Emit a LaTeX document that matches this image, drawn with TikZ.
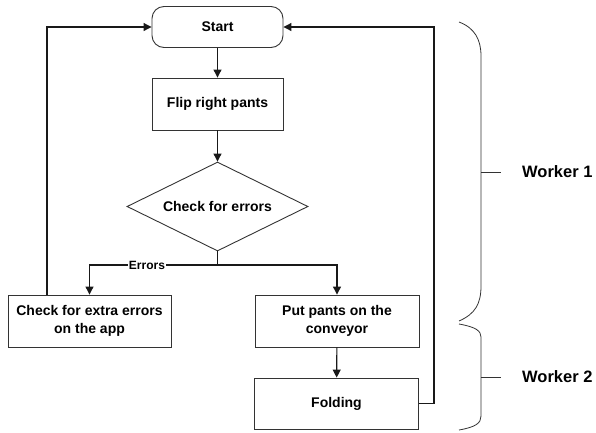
\documentclass[tikz,border=0pt]{standalone}
\usepackage{fontspec}
\setmainfont{Liberation Sans}
\usetikzlibrary{shapes.geometric,arrows.meta}

\tikzset{
  box/.style={draw=black!80, line width=0.9pt, rectangle, inner sep=2pt,
    align=center, font=\bfseries\fontsize{14}{17.5}\selectfont},
  terminal/.style={box, rounded corners=12pt},
  decision/.style={draw=black!80, line width=0.9pt, diamond, aspect=2,
    inner sep=0pt, font=\bfseries\fontsize{14}{17.5}\selectfont},
  arr/.style={draw=black!90, line width=1.1pt,
    -{Triangle[length=8pt,width=8pt]}},
  link/.style={draw=black!90, line width=1.1pt},
  brace/.style={draw=black!80, line width=0.8pt},
  tag/.style={font=\bfseries\fontsize{16.5}{19}\selectfont, inner sep=0pt, anchor=west},
}

\begin{document}
\begin{tikzpicture}[x=1pt, y=-1pt]
  \useasboundingbox (0,0) rectangle (596,432);

  % flowchart blocks
  \node[terminal, minimum width=131pt, minimum height=41pt] (start) at (217.5,27) {Start};
  \node[box, minimum width=131pt, minimum height=52pt] (flip) at (217.5,104) {Flip right pants};
  \node[decision, minimum width=181pt, minimum height=89pt] (check) at (217.5,206.5) {Check for errors};
  \node[box, minimum width=163pt, minimum height=52pt] (extra) at (89.5,321) {Check for extra errors\\on the app};
  \node[box, minimum width=164pt, minimum height=52pt] (put) at (337,321) {Put pants on the\\conveyor};
  \node[box, minimum width=164pt, minimum height=51pt] (fold) at (336.5,403.5) {Folding};

  % helper points for the branch and the return lines
  \coordinate (split) at (217.5,265);
  \coordinate (leftx) at (47,0);
  \coordinate (rightx) at (434,0);

  % main flow
  \draw[arr] (start) -- (flip);
  \draw[arr] (flip) -- (check);
  \draw[link] (check.south) -- (split);
  \draw[arr] (split) -| (extra.north);
  \draw[arr] (split) -| (put.north);
  \draw[arr] (put) -- (fold);
  \node[fill=white, inner sep=1pt, font=\bfseries\fontsize{12}{14}\selectfont] (errlbl) at (147,265) {Errors};

  % return lines to the start
  \draw[arr] (extra.north -| leftx) |- (start.west);
  \draw[arr] (fold.east) -- (fold.east -| rightx) |- (start.east);

  % worker braces
  \draw[brace] (459,22) .. controls (475,28) and (481,40) .. (481,56)
    -- (481,286) .. controls (481,304) and (475,314) .. (459,321);
  \draw[brace] (481,172) -- (501,172);
  \draw[brace] (459,324) .. controls (476,327) and (481,331) .. (481,337)
    -- (481,416) .. controls (481,423) and (476,427) .. (459,430);
  \draw[brace] (481,377) -- (501,377);

  \node[tag] (w1) at (522,172) {Worker 1};
  \node[tag] (w2) at (522,377) {Worker 2};
\end{tikzpicture}
\end{document}
